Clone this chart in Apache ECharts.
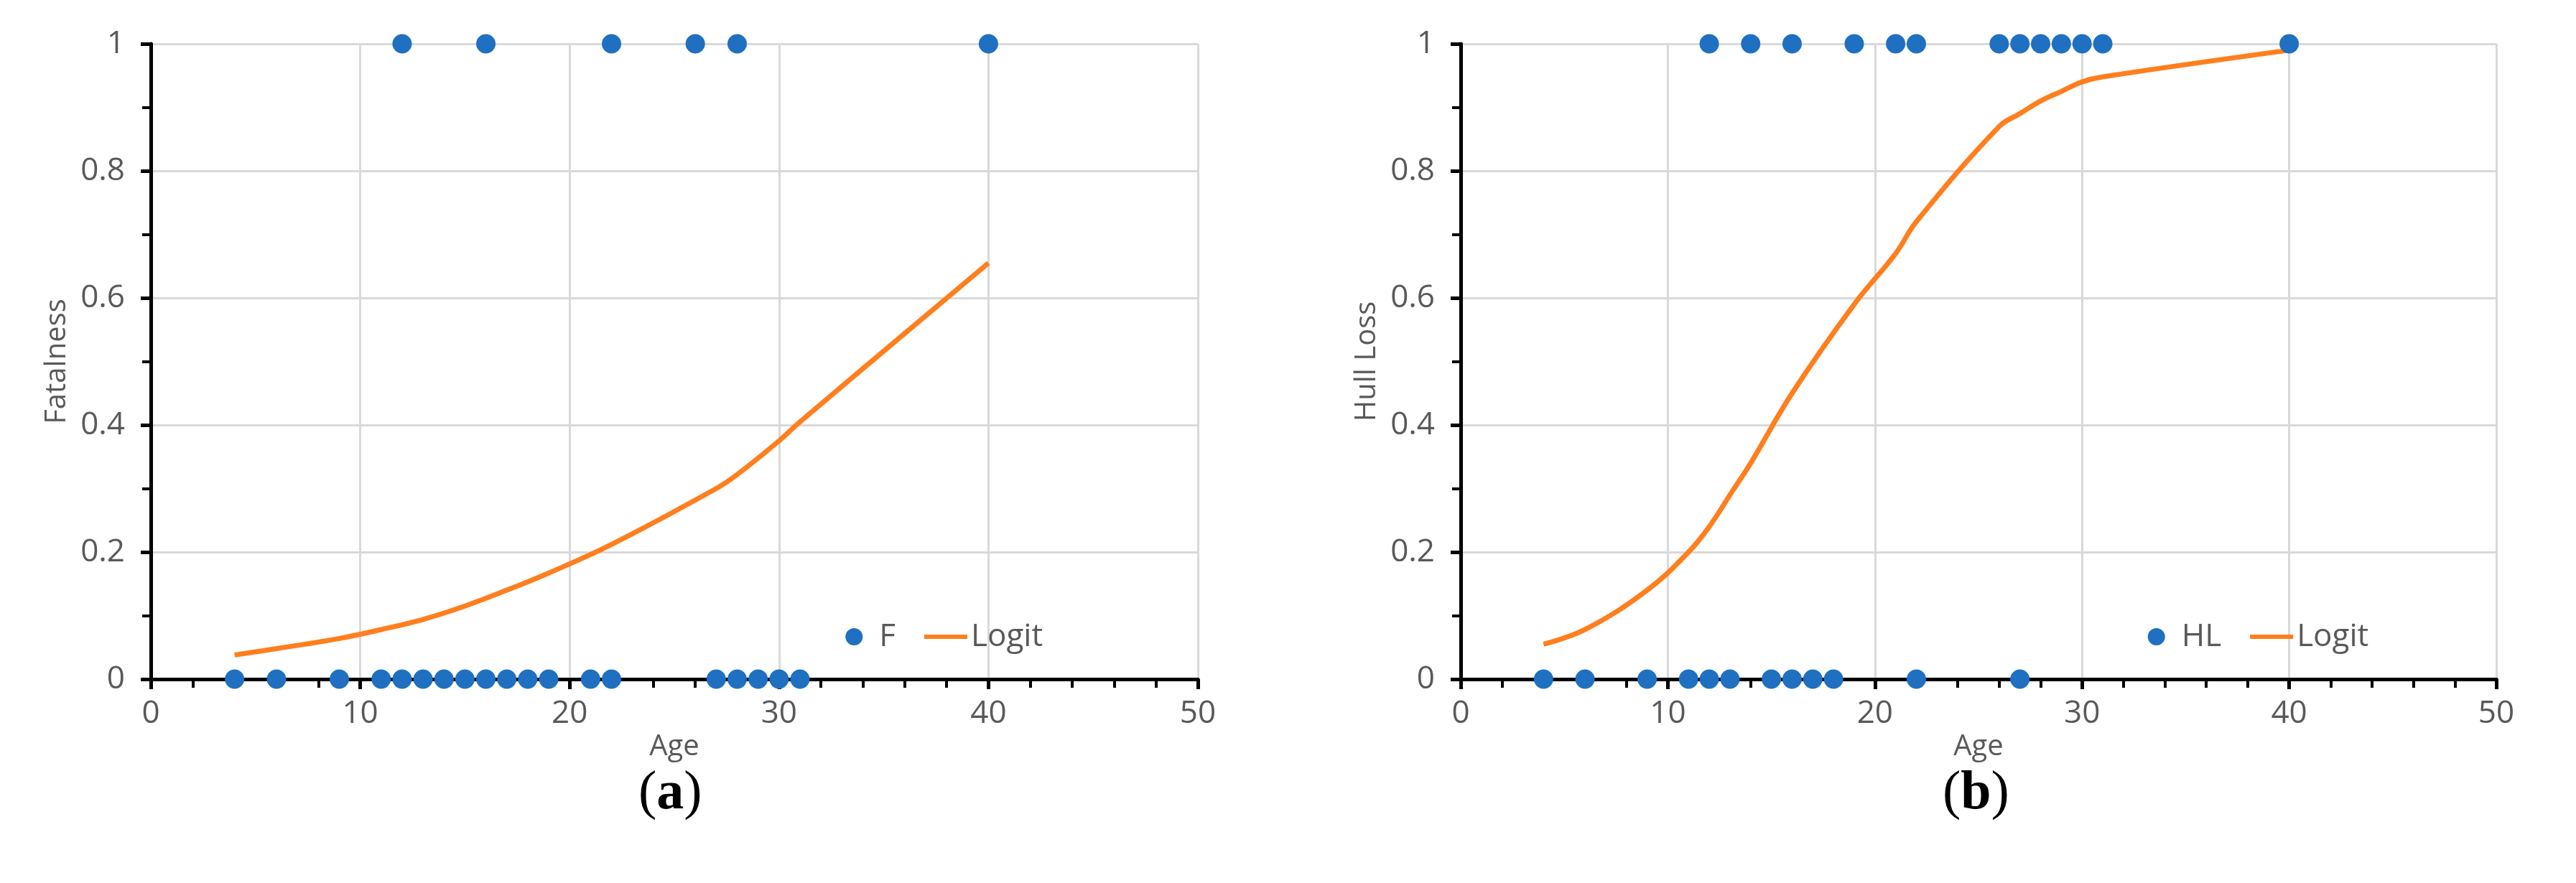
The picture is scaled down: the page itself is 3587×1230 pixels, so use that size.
<!DOCTYPE html>
<html>
<head>
<meta charset="utf-8">
<script src="https://cdn.jsdelivr.net/npm/echarts@6/dist/echarts.min.js"></script>
<style>
  html, body { margin: 0; padding: 0; background: #fff; }
  #chart { width: 3587px; height: 1230px; }
</style>
</head>
<body>
<div id="chart"></div>
<script>
// panel (a): fatalness vs age
const fZeroAges = [4, 6, 9, 11, 12, 13, 14, 15, 16, 17, 18, 19, 21, 22, 27, 28, 29, 30, 31]
const fOneAges = [12, 16, 22, 26, 28, 40]
const fLogitAges = [4, 6, 9, 11, 13, 15, 17, 19, 22, 27, 28, 30, 31, 40]
const fLogitVals = [0.038, 0.048, 0.064, 0.078, 0.094, 0.115, 0.14, 0.167, 0.212, 0.3, 0.322, 0.375, 0.405, 0.655]

// panel (b): hull loss vs age
const hZeroAges = [4, 6, 9, 11, 12, 13, 15, 16, 17, 18, 22, 27]
const hOneAges = [12, 14, 16, 19, 21, 22, 26, 27, 28, 29, 30, 31, 40]
const hLogitAges = [4, 6, 9, 11, 12, 13, 14, 16, 19, 21, 22, 26, 27, 28, 29, 30, 31, 40]
const hLogitVals = [0.055, 0.078, 0.14, 0.2, 0.24, 0.29, 0.34, 0.45, 0.59, 0.67, 0.72, 0.87, 0.89, 0.91, 0.925, 0.94, 0.948, 0.99]

const BLUE = '#1f70c1'
const ORANGE = '#ff7f1e'
const FONT = 'Open Sans'

const panels = [
  { left: 210, right: 1668, yName: 'Fatalness', pointName: 'F', zero: fZeroAges, one: fOneAges, lx: fLogitAges, ly: fLogitVals, tag: 'a' },
  { left: 2034, right: 3476, yName: 'Hull Loss', pointName: 'HL', zero: hZeroAges, one: hOneAges, lx: hLogitAges, ly: hLogitVals, tag: 'b' }
]

const grid = [], xAxis = [], yAxis = [], series = [], legend = [], graphic = []

panels.forEach((p, i) => {
  grid.push({ left: p.left, width: p.right - p.left, top: 61, height: 885 })
  xAxis.push({
    type: 'value', gridIndex: i, min: 0, max: 50, interval: 10,
    name: 'Age', nameLocation: 'middle', nameGap: 62,
    nameTextStyle: { fontFamily: FONT, fontSize: 40, color: '#595959' },
    axisLine: { onZero: false, lineStyle: { color: '#000', width: 5 } },
    axisTick: { show: true, length: 14, lineStyle: { color: '#000', width: 5 } },
    minorTick: { show: true, splitNumber: 5, length: 12, lineStyle: { color: '#000', width: 4 } },
    axisLabel: { fontFamily: FONT, fontSize: 44, color: '#595959', margin: 26 },
    splitLine: { show: true, lineStyle: { color: '#d9d9d9', width: 3 } }
  })
  // top frame line at y = 1
  xAxis.push({
    type: 'value', gridIndex: i, min: 0, max: 50, position: 'top',
    axisLine: { show: true, lineStyle: { color: '#000', width: 5 } },
    axisTick: { show: false }, axisLabel: { show: false }, splitLine: { show: false }
  })
  yAxis.push({
    type: 'value', gridIndex: i, min: 0, max: 1, interval: 0.2,
    name: p.yName, nameLocation: 'middle', nameGap: 110,
    nameTextStyle: { fontFamily: FONT, fontSize: 40, color: '#595959' },
    axisLine: { show: true, lineStyle: { color: '#000', width: 5 } },
    axisTick: { show: true, length: 14, lineStyle: { color: '#000', width: 5 } },
    minorTick: { show: true, splitNumber: 2, length: 12, lineStyle: { color: '#000', width: 4 } },
    axisLabel: { fontFamily: FONT, fontSize: 44, color: '#595959', margin: 36, formatter: v => String(+v.toFixed(1)) },
    splitLine: { show: true, lineStyle: { color: '#d9d9d9', width: 3 } }
  })

  const pts = p.zero.map(a => [a, 0]).concat(p.one.map(a => [a, 1]))
  series.push({
    name: p.pointName, type: 'scatter', xAxisIndex: i * 2, yAxisIndex: i,
    data: pts, symbolSize: 27, itemStyle: { color: BLUE, opacity: 1 }, z: 5
  })
  series.push({
    name: 'Logit', type: 'line', xAxisIndex: i * 2, yAxisIndex: i,
    data: p.lx.map((a, k) => [a, p.ly[k]]), showSymbol: false, smooth: 0.4,
    lineStyle: { color: ORANGE, width: 7 }, itemStyle: { color: ORANGE }, z: 4
  })
  legend.push({
    data: [{ name: p.pointName, icon: 'circle' }, { name: 'Logit', icon: 'path://M0,0 H10 V1 H0 Z' }],
    left: p.left + (p.right - p.left) * 0.66, top: 860,
    itemWidth: 60, itemHeight: 24, itemGap: 40,
    textStyle: { fontFamily: FONT, fontSize: 44, color: '#595959' },
    seriesIndex: [i * 2, i * 2 + 1]
  })
  graphic.push({
    type: 'text', left: (p.left + p.right) / 2 - 50, top: 1068,
    style: {
      text: '({b|' + p.tag + '})', fontFamily: 'Liberation Serif', fontSize: 76, fill: '#000',
      rich: { b: { fontFamily: 'Liberation Serif', fontSize: 76, fontWeight: 'bold', fill: '#000' } }
    }
  })
})

const chart = echarts.init(document.getElementById('chart'))
chart.setOption({
  animation: false,
  backgroundColor: '#fff',
  grid, xAxis, yAxis, series, legend, graphic
})
</script>
</body>
</html>
